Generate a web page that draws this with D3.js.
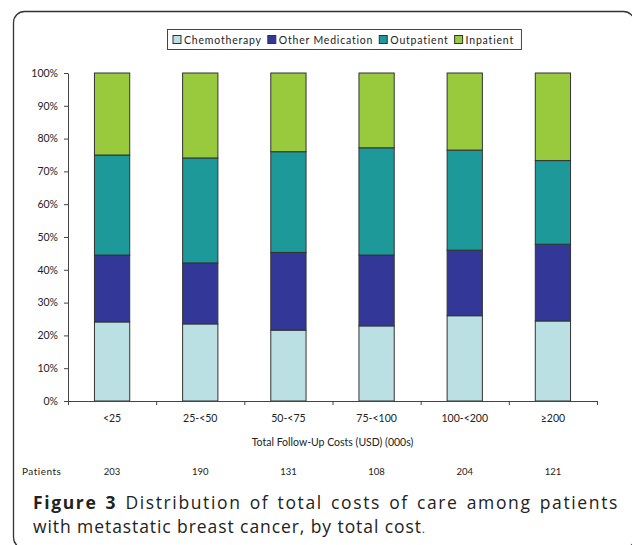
<!DOCTYPE html>
<html>
<head>
<meta charset="utf-8">
<script src="https://cdn.jsdelivr.net/npm/d3@7"></script>
<style>
  body { margin: 0; background: #fff; }
  svg { display: block; }
  .chart text { font-family: Lato, "Open Sans", sans-serif; fill: #222; }
  .caption { font-family: "Open Sans", sans-serif; fill: #222; }
</style>
</head>
<body>
<svg width="632" height="545"></svg>
<script>
let categories = ['<25', '25-<50', '50-<75', '75-<100', '100-<200', '\u2265200'];
let patients = [203, 190, 131, 108, 204, 121];
let seriesNames = ['Chemotherapy', 'Other Medication', 'Outpatient', 'Inpatient'];
let chemotherapy = [24.1, 23.5, 21.6, 22.9, 26.0, 24.4];
let otherMedication = [20.4, 18.6, 23.7, 21.6, 20.0, 23.4];
let outpatient = [30.5, 32.0, 30.7, 32.7, 30.5, 25.5];
let inpatient = [25.0, 25.9, 24.0, 22.8, 23.5, 26.7];
let yTicks = [0, 10, 20, 30, 40, 50, 60, 70, 80, 90, 100];

let colors = ['#bbe0e3', '#333797', '#1e9999', '#99c93c'];

let width = 632;
let height = 545;
let plotLeft = 68, plotRight = 597, plotTop = 73, plotBottom = 401;

let svg = d3.select('svg');

// rounded frame (right and bottom run off the page)
svg.append('rect')
    .attr('x', 13.5).attr('y', 11.5)
    .attr('width', 621).attr('height', 537)
    .attr('rx', 11)
    .attr('fill', 'none')
    .attr('stroke', '#333')
    .attr('stroke-width', 1.3);

let table = categories.map((c, i) => ({
    cat: c,
    'Chemotherapy': chemotherapy[i],
    'Other Medication': otherMedication[i],
    'Outpatient': outpatient[i],
    'Inpatient': inpatient[i]
}));

let stacked = d3.stack().keys(seriesNames)(table);

let xScale = d3.scaleBand()
    .domain(categories)
    .range([plotLeft, plotRight])
    .paddingInner(0.6)
    .paddingOuter(0.3);

let yScale = d3.scaleLinear()
    .domain([0, 100])
    .range([plotBottom, plotTop]);

let g = svg.append('g').attr('class', 'chart');

// bars
g.selectAll('g.series')
    .data(stacked)
    .enter()
    .append('g')
    .attr('class', 'series')
    .attr('fill', (d, i) => colors[i])
    .selectAll('rect')
    .data(d => d)
    .enter()
    .append('rect')
    .attr('x', d => xScale(d.data.cat))
    .attr('y', d => yScale(d[1]))
    .attr('width', xScale.bandwidth())
    .attr('height', d => yScale(d[0]) - yScale(d[1]))
    .attr('stroke', '#333')
    .attr('stroke-width', 1);

// y axis
let yAxis = d3.axisLeft(yScale)
    .tickValues(yTicks)
    .tickFormat(d => d + '%')
    .tickSize(4)
    .tickSizeOuter(0)
    .tickPadding(6);

let yg = g.append('g')
    .attr('transform', `translate(${plotLeft}, 0)`)
    .call(yAxis);
yg.selectAll('path, line').attr('stroke', '#444');
yg.selectAll('text').style('font-size', '10.5px');

// x axis boundary ticks
let xEdge = d3.scaleLinear().domain([0, categories.length]).range([plotLeft, plotRight]);
let xg = g.append('g')
    .attr('transform', `translate(0, ${plotBottom})`)
    .call(d3.axisBottom(xEdge).tickValues(d3.range(categories.length + 1)).tickFormat('').tickSize(4).tickSizeOuter(0));
xg.selectAll('path, line').attr('stroke', '#444');

// category labels
let cg = g.append('g')
    .attr('transform', `translate(0, ${plotBottom})`)
    .call(d3.axisBottom(xScale).tickSize(0).tickPadding(14));
cg.select('.domain').remove();
cg.selectAll('text').style('font-size', '10.5px');

// axis title
g.append('text')
    .attr('x', (plotLeft + plotRight) / 2)
    .attr('y', 446)
    .attr('text-anchor', 'middle')
    .style('font-size', '10.5px')
    .text('Total Follow-Up Costs (USD) (000s)');

// patients row
g.append('text')
    .attr('x', 22)
    .attr('y', 475)
    .style('font-size', '10px')
    .style('letter-spacing', '0.5px')
    .text('Patients');

g.selectAll('text.pat')
    .data(patients)
    .enter()
    .append('text')
    .attr('class', 'pat')
    .attr('x', (d, i) => xScale(categories[i]) + xScale.bandwidth() / 2)
    .attr('y', 475)
    .attr('text-anchor', 'middle')
    .style('font-size', '9.5px')
    .text(d => d);

// legend
let legend = g.append('g');
let lx = 173;
let ly = 40;
seriesNames.forEach((name, i) => {
    legend.append('rect')
        .attr('x', lx).attr('y', ly - 4.5)
        .attr('width', 8).attr('height', 8)
        .attr('fill', colors[i])
        .attr('stroke', '#333');
    let t = legend.append('text')
        .attr('x', lx + 11)
        .attr('y', ly + 3.5)
        .style('font-size', '10.5px')
        .style('letter-spacing', '0.8px')
        .text(name);
    lx += 11 + t.node().getComputedTextLength() + 6;
});
legend.insert('rect', ':first-child')
    .attr('x', 167.5).attr('y', 29.5)
    .attr('width', lx - 167 + 1).attr('height', 20)
    .attr('fill', '#fff')
    .attr('stroke', '#444');

// caption: second line is set loose, first line is justified to the frame
let cap = svg.append('g').attr('class', 'caption');
let line2 = cap.append('text')
    .attr('x', 33).attr('y', 533)
    .style('font-size', '17.5px');
line2.append('tspan').text('with metastatic breast cancer, by total cost');
let w2 = line2.node().getComputedTextLength();
line2.style('letter-spacing', ((388 - w2) / 43) + 'px');
line2.append('tspan').style('font-size', '11px').text('.');

let line1 = cap.append('text')
    .attr('x', 33).attr('y', 509)
    .style('font-size', '17.5px')
    .style('word-spacing', '2px');
line1.append('tspan').style('font-weight', 'bold').text('Figure 3');
line1.append('tspan').text(' Distribution of total costs of care among patients');
let w1 = line1.node().getComputedTextLength();
line1.style('letter-spacing', ((586 - w1) / 59) + 'px');
</script>
</body>
</html>
